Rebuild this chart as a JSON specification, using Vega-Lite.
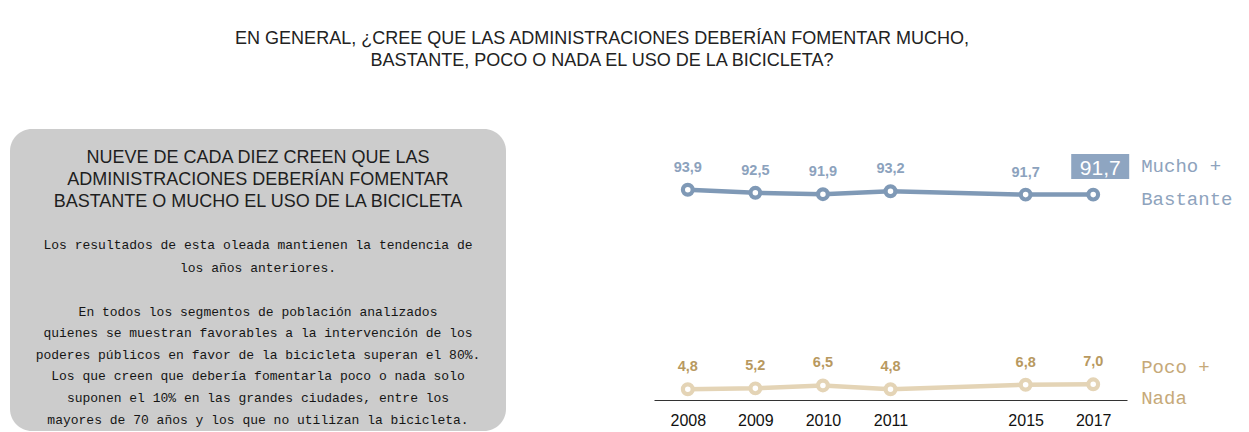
{
  "$schema": "https://vega.github.io/schema/vega-lite/v6.json",
  "background": "white",
  "padding": {"left": 10, "top": 0, "right": 0, "bottom": 0},
  "config": {
    "view": {"stroke": null},
    "font": "Liberation Sans",
    "locale": {"number": {"decimal": ",", "thousands": ".", "grouping": [3], "currency": ["", " €"]}}
  },
  "datasets": {
    "encuesta": [
      {"anio": "2008", "serie": "Mucho + Bastante", "rotulo": "Mucho +\nBastante", "valor": 93.9},
      {"anio": "2009", "serie": "Mucho + Bastante", "rotulo": "Mucho +\nBastante", "valor": 92.5},
      {"anio": "2010", "serie": "Mucho + Bastante", "rotulo": "Mucho +\nBastante", "valor": 91.9},
      {"anio": "2011", "serie": "Mucho + Bastante", "rotulo": "Mucho +\nBastante", "valor": 93.2},
      {"anio": "2015", "serie": "Mucho + Bastante", "rotulo": "Mucho +\nBastante", "valor": 91.7},
      {"anio": "2017", "serie": "Mucho + Bastante", "rotulo": "Mucho +\nBastante", "valor": 91.7},
      {"anio": "2008", "serie": "Poco + Nada", "rotulo": "Poco +\nNada", "valor": 4.8},
      {"anio": "2009", "serie": "Poco + Nada", "rotulo": "Poco +\nNada", "valor": 5.2},
      {"anio": "2010", "serie": "Poco + Nada", "rotulo": "Poco +\nNada", "valor": 6.5},
      {"anio": "2011", "serie": "Poco + Nada", "rotulo": "Poco +\nNada", "valor": 4.8},
      {"anio": "2015", "serie": "Poco + Nada", "rotulo": "Poco +\nNada", "valor": 6.8},
      {"anio": "2017", "serie": "Poco + Nada", "rotulo": "Poco +\nNada", "valor": 7.0}
    ]
  },
  "bounds": "flush",
  "spacing": 0,
  "vconcat": [
    {
      "width": 1184,
      "height": 129,
      "data": {"values": [{"titulo": "EN GENERAL, ¿CREE QUE LAS ADMINISTRACIONES DEBERÍAN FOMENTAR MUCHO,\nBASTANTE, POCO O NADA EL USO DE LA BICICLETA?"}]},
      "mark": {"type": "text", "font": "Liberation Sans", "fontSize": 18, "color": "#222222", "align": "center", "baseline": "alphabetic", "lineBreak": "\n", "lineHeight": 22, "dy": -20.5},
      "encoding": {"text": {"field": "titulo"}}
    },
    {
      "bounds": "flush",
      "spacing": 148,
      "hconcat": [
        {
          "width": 496,
          "height": 302,
          "view": {"fill": "#cccccc", "cornerRadius": 22, "stroke": null},
          "layer": [
            {
              "data": {"values": [{"texto": "NUEVE DE CADA DIEZ CREEN QUE LAS\nADMINISTRACIONES DEBERÍAN FOMENTAR\nBASTANTE O MUCHO EL USO DE LA BICICLETA"}]},
              "mark": {"type": "text", "font": "Liberation Sans", "fontSize": 18, "lineHeight": 22, "lineBreak": "\n", "dy": -116.7, "color": "#1e1e1e", "align": "center", "baseline": "alphabetic"},
              "encoding": {"text": {"field": "texto"}}
            },
            {
              "data": {"values": [{"texto": "Los resultados de esta oleada mantienen la tendencia de\nlos años anteriores."}]},
              "mark": {"type": "text", "font": "Liberation Mono", "fontSize": 13, "lineHeight": 22.5, "lineBreak": "\n", "dy": -31, "color": "#151515", "align": "center", "baseline": "alphabetic"},
              "encoding": {"text": {"field": "texto"}}
            },
            {
              "data": {"values": [{"texto": "En todos los segmentos de población analizados\nquienes se muestran favorables a la intervención de los\npoderes públicos en favor de la bicicleta superan el 80%.\nLos que creen que debería fomentarla poco o nada solo\nsuponen el 10% en las grandes ciudades, entre los\nmayores de 70 años y los que no utilizan la bicicleta."}]},
              "mark": {"type": "text", "font": "Liberation Mono", "fontSize": 13, "lineHeight": 21.6, "lineBreak": "\n", "dy": 35.6, "color": "#151515", "align": "center", "baseline": "alphabetic"},
              "encoding": {"text": {"field": "texto"}}
            }
          ]
        },
        {
          "width": 473,
          "height": 271,
          "data": {"name": "encuesta"},
          "encoding": {
            "x": {
              "field": "anio",
              "type": "ordinal",
              "scale": {"type": "point", "domain": ["2008", "2009", "2010", "2011", " ", "2015", "2017"], "padding": 0.5},
              "axis": {"title": null, "labelAngle": 0, "ticks": false, "tickSize": 0, "labelPadding": 12, "labelFontSize": 16, "labelColor": "#111111", "labelFont": "Liberation Sans", "domainColor": "#333333", "domainWidth": 1, "grid": false}
            },
            "y": {"field": "valor", "type": "quantitative", "scale": {"domain": [0, 121]}, "axis": null}
          },
          "layer": [
            {
              "mark": {"type": "line", "strokeWidth": 4.5},
              "encoding": {
                "color": {"field": "serie", "type": "nominal", "scale": {"domain": ["Mucho + Bastante", "Poco + Nada"], "range": ["#7f99b6", "#e4d4b6"]}, "legend": null}
              }
            },
            {
              "mark": {"type": "point", "filled": false, "fill": "white", "fillOpacity": 1, "opacity": 1, "size": 95, "strokeWidth": 4.2},
              "encoding": {
                "color": {"field": "serie", "type": "nominal", "scale": {"domain": ["Mucho + Bastante", "Poco + Nada"], "range": ["#7f99b6", "#e4d4b6"]}, "legend": null}
              }
            },
            {
              "transform": [{"filter": "!(datum.anio == '2017' && datum.serie == 'Mucho + Bastante')"}],
              "mark": {"type": "text", "font": "Liberation Sans", "fontWeight": "bold", "fontSize": 14.5, "dy": -18, "baseline": "alphabetic", "align": "center"},
              "encoding": {
                "text": {"field": "valor", "type": "quantitative", "format": ".1f"},
                "color": {"field": "serie", "type": "nominal", "scale": {"domain": ["Mucho + Bastante", "Poco + Nada"], "range": ["#8ca2bd", "#b8995f"]}, "legend": null}
              }
            },
            {
              "transform": [{"filter": "datum.anio == '2017' && datum.serie == 'Mucho + Bastante'"}],
              "mark": {"type": "rect", "width": 58, "height": 25, "xOffset": 7, "yOffset": -28, "color": "#8ea5c1"}
            },
            {
              "transform": [{"filter": "datum.anio == '2017' && datum.serie == 'Mucho + Bastante'"}],
              "mark": {"type": "text", "font": "Liberation Sans", "fontSize": 21, "color": "white", "dx": 7, "dy": -20, "align": "center", "baseline": "alphabetic"},
              "encoding": {"text": {"field": "valor", "type": "quantitative", "format": ".1f"}}
            },
            {
              "transform": [{"filter": "datum.anio == '2017' && datum.serie == 'Mucho + Bastante'"}],
              "mark": {"type": "text", "font": "Liberation Mono", "fontSize": 19, "color": "#8ea3bd", "dx": 48, "dy": -23, "align": "left", "baseline": "alphabetic", "lineBreak": "\n", "lineHeight": 33},
              "encoding": {"text": {"field": "rotulo"}}
            },
            {
              "transform": [{"filter": "datum.anio == '2017' && datum.serie == 'Poco + Nada'"}],
              "mark": {"type": "text", "font": "Liberation Mono", "fontSize": 19, "color": "#c6a979", "dx": 48, "dy": -11, "align": "left", "baseline": "alphabetic", "lineBreak": "\n", "lineHeight": 31},
              "encoding": {"text": {"field": "rotulo"}}
            }
          ],
          "resolve": {"scale": {"color": "independent"}}
        }
      ]
    }
  ]
}
